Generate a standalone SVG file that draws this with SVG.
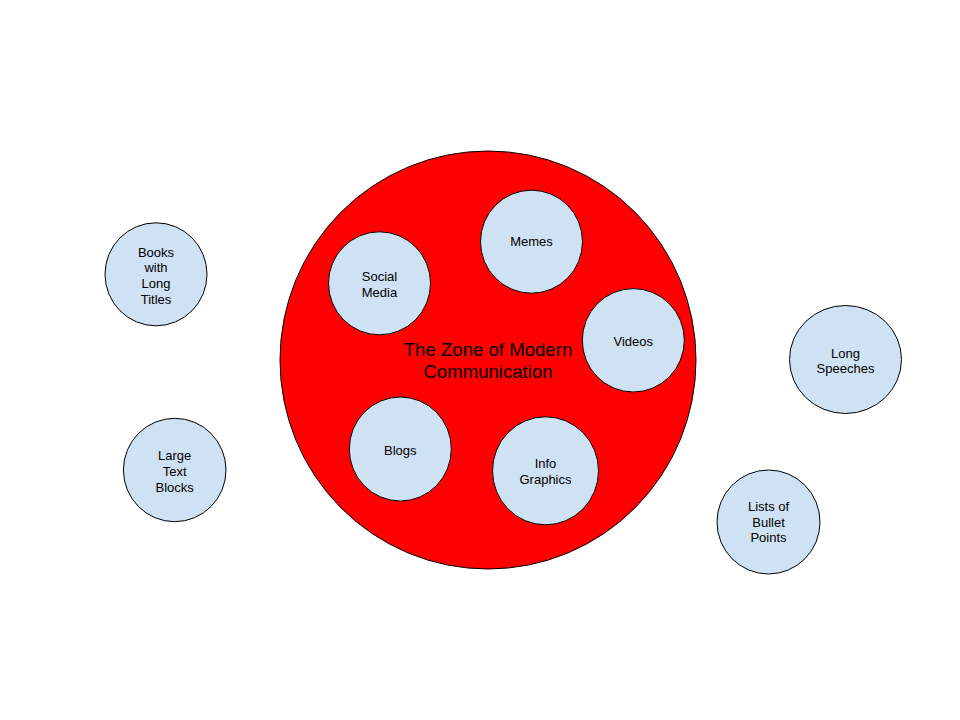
<svg xmlns="http://www.w3.org/2000/svg" width="960" height="720" viewBox="0 0 960 720">
<style>
.bub{fill:#cfe2f3;stroke:#000;stroke-width:1}
.zone{fill:#ff0000;stroke:#000;stroke-width:1}
text{font-family:"Liberation Sans",Arial,sans-serif;fill:#000;text-anchor:middle}
.s{font-size:13px}
.big{font-size:18.6px}
</style>
<rect width="960" height="720" fill="#fff"/>
<g id="zone">
<ellipse class="zone" cx="488" cy="360" rx="208" ry="209"/>
<text class="big" x="488" y="356">The Zone of Modern</text>
<text class="big" x="488" y="377.5">Communication</text>
</g>
<g id="connectors"/>
<g id="social-media">
<ellipse class="bub" cx="379.5" cy="283.3" rx="51" ry="51.5"/>
<text class="s" x="379.5" y="281">Social</text>
<text class="s" x="379.5" y="296.5">Media</text>
</g>
<g id="memes">
<ellipse class="bub" cx="531.5" cy="241.7" rx="51" ry="51.5"/>
<text class="s" x="531.5" y="246">Memes</text>
</g>
<g id="videos">
<ellipse class="bub" cx="633.3" cy="340.3" rx="51" ry="51.7"/>
<text class="s" x="633.3" y="345.5">Videos</text>
</g>
<g id="blogs">
<ellipse class="bub" cx="400.3" cy="449" rx="51" ry="52"/>
<text class="s" x="400.3" y="454.5">Blogs</text>
</g>
<g id="info-graphics">
<ellipse class="bub" cx="545.5" cy="470.8" rx="53" ry="54"/>
<text class="s" x="545.5" y="468.3">Info</text>
<text class="s" x="545.5" y="484">Graphics</text>
</g>
<g id="books">
<ellipse class="bub" cx="156" cy="274.3" rx="51" ry="51.5"/>
<text class="s" x="156" y="256.5">Books</text>
<text class="s" x="156" y="272.3">with</text>
<text class="s" x="156" y="288">Long</text>
<text class="s" x="156" y="303.5">Titles</text>
</g>
<g id="large-text-blocks">
<ellipse class="bub" cx="174.7" cy="470" rx="51.3" ry="51.7"/>
<text class="s" x="174.7" y="460">Large</text>
<text class="s" x="174.7" y="475.7">Text</text>
<text class="s" x="174.7" y="491.5">Blocks</text>
</g>
<g id="long-speeches">
<ellipse class="bub" cx="845.5" cy="359.5" rx="56" ry="54"/>
<text class="s" x="845.5" y="357.5">Long</text>
<text class="s" x="845.5" y="373">Speeches</text>
</g>
<g id="lists-of-bullet-points">
<ellipse class="bub" cx="768.5" cy="522" rx="51.5" ry="52"/>
<text class="s" x="768.5" y="510.7">Lists of</text>
<text class="s" x="768.5" y="526.5">Bullet</text>
<text class="s" x="768.5" y="542.3">Points</text>
</g>
</svg>
